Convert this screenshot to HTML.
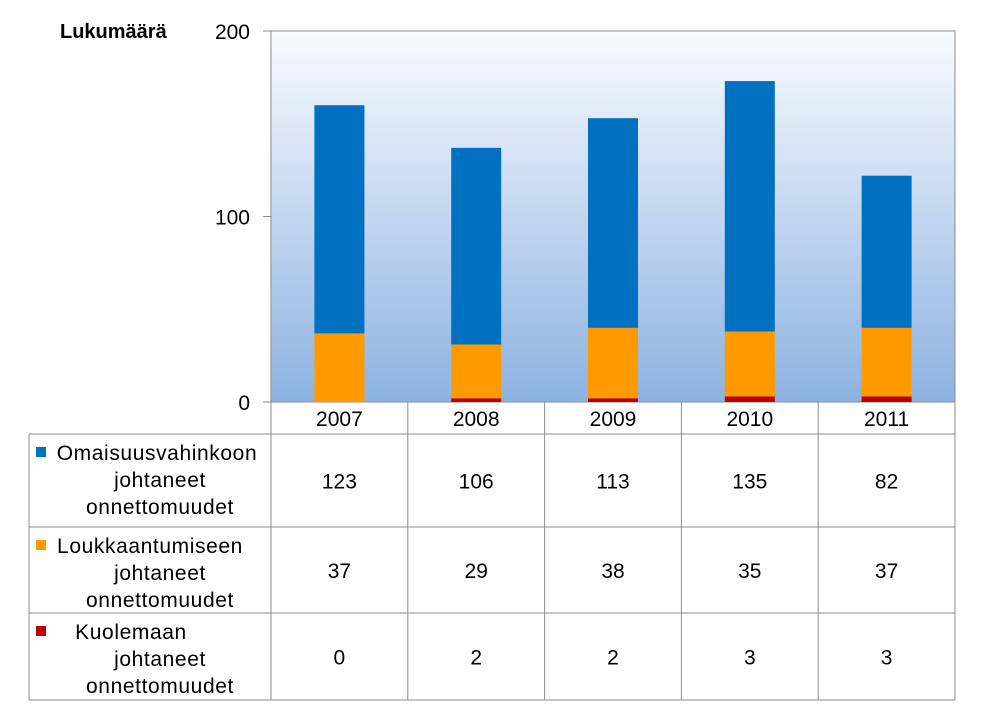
<!DOCTYPE html>
<html><head><meta charset="utf-8"><style>
body{margin:0;background:#fff;}
svg{display:block;font-family:"Liberation Sans",sans-serif;}
</style></head><body>
<svg id="c" width="1001" height="709">
<defs><linearGradient id="bg" x1="0" y1="0" x2="0" y2="1">
<stop offset="0" stop-color="#f8fbff"/><stop offset="1" stop-color="#8db2e1"/></linearGradient></defs>
<rect x="271" y="31" width="684" height="371" fill="url(#bg)" stroke="#8c8c8c"/>
<text x="60" y="38" font-size="20" font-weight="bold">Lukumäärä</text>
<g id="yaxis"></g><g id="bars"></g><g id="table"></g>
</svg>
<script>
const years=["2007","2008","2009","2010","2011"];
const omaisuus=[123,106,113,135,82];
const loukkaantuminen=[37,29,38,35,37];
const kuolema=[0,2,2,3,3];
const yTicks=[0,100,200];
const NS="http://www.w3.org/2000/svg";
const X0=271,colW=136.8,Y0=402,Y1=31,yMax=200;
const y=v=>Y0-(Y0-Y1)*v/yMax;
const xc=i=>X0+colW*(i+0.5);
function el(t,a,p){const e=document.createElementNS(NS,t);for(const k in a)e.setAttribute(k,a[k]);p.appendChild(e);return e;}
const ya=document.getElementById('yaxis');
yTicks.forEach(t=>{
 const l=el('line',{x1:263,x2:271,y1:y(t),y2:y(t),stroke:'#8c8c8c'},ya);
 
 
 const tx=el('text',{x:250,y:y(t)+8,'font-size':21,'text-anchor':'end'},ya);
 tx.textContent=t;
 
 
});
const bg=document.getElementById('bars');
const series=[[kuolema,'#c00000','bar-kuolema'],[loukkaantuminen,'#ff9900','bar-loukkaantuminen'],[omaisuus,'#0070c0','bar-omaisuus']];
years.forEach((yr,i)=>{
 let base=0;
 series.forEach(([arr,col,nm])=>{
  const v=arr[i];
  const r=el('rect',{x:xc(i)-25,width:50,y:y(base+v),height:y(base)-y(base+v),fill:col},bg);
  
  
  base+=v;
 });
});
const tb=document.getElementById('table');
const rows=[434,527,613,700];
const G='#8c8c8c';
for(let i=0;i<=5;i++){const x=X0+colW*i;el('line',{x1:x,x2:x,y1:402,y2:700,stroke:G},tb);}
el('line',{x1:29,x2:29,y1:434,y2:700,stroke:G},tb);
[434,527,613,700].forEach(yy=>el('line',{x1:29,x2:955,y1:yy,y2:yy,stroke:G},tb));
years.forEach((yr,i)=>{
 const t=el('text',{x:xc(i),y:426,'font-size':21,'text-anchor':'middle'},tb);
 t.textContent=yr;
 
 
});
const labels=[["Omaisuusvahinkoon","johtaneet","onnettomuudet"],["Loukkaantumiseen","johtaneet","onnettomuudet"],["Kuolemaan","johtaneet","onnettomuudet"]];
const firstX=[157,150,131];
const cols=['#0070c0','#ff9900','#c00000'];
const data=[omaisuus,loukkaantuminen,kuolema];
const names=['omaisuus','loukkaantuminen','kuolema'];
for(let r=0;r<3;r++){
 const top=rows[r],bot=rows[r+1],mid=(top+bot)/2;
 const sq=el('rect',{x:36,y:top+13,width:10,height:10,fill:cols[r]},tb);
 
 
 labels[r].forEach((s,k)=>{
  const t=el('text',{x:k==0?firstX[r]:160,y:top+26+k*27,'font-size':21,'letter-spacing':'0.6','text-anchor':'middle'},tb);
  t.textContent=s;
  
  
 });
 data[r].forEach((v,i)=>{
  const t=el('text',{x:xc(i),y:mid+8,'font-size':21,'text-anchor':'middle'},tb);
  t.textContent=v;
  
  
 });
}
</script>
</body></html>
